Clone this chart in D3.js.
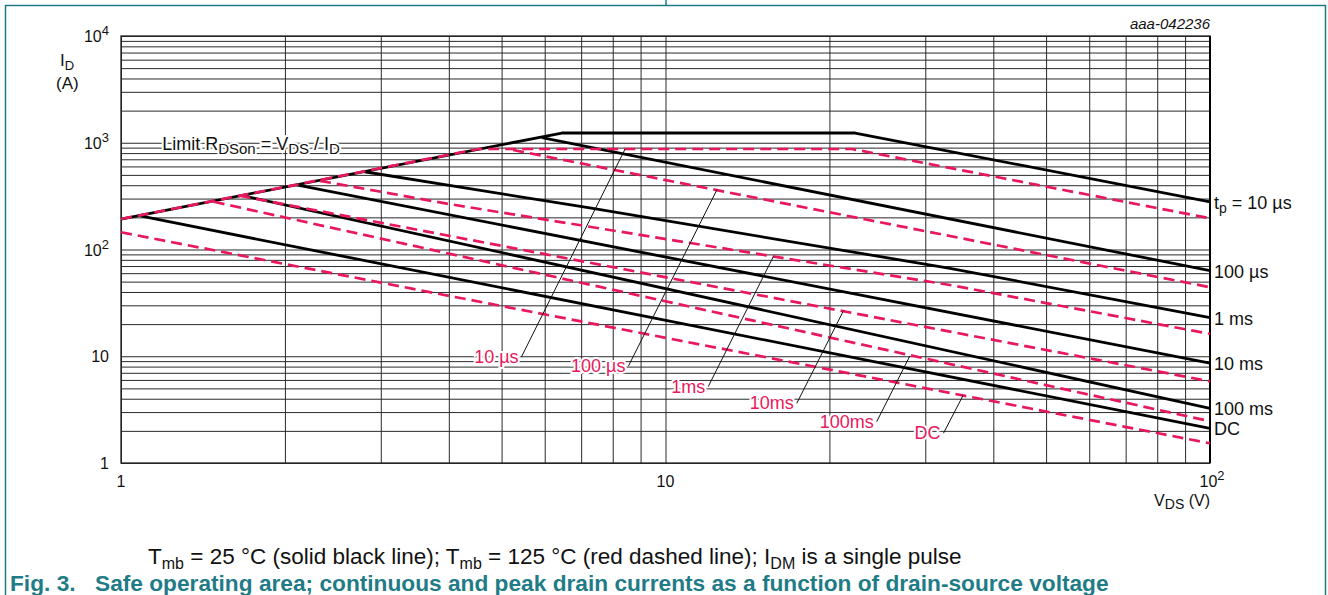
<!DOCTYPE html>
<html>
<head>
<meta charset="utf-8">
<script src="https://cdn.jsdelivr.net/npm/d3@7"></script>
<style>
  body { margin: 0; background: #fff; }
  svg text { font-family: "Liberation Sans", Arial, sans-serif; }
</style>
</head>
<body>
<svg width="1328" height="595"></svg>
<script>
// pulse duration labels (right side, black) and red labels (inside plot)
const pulseLabels = ["100 µs", "1 ms", "10 ms", "100 ms", "DC"];
const redLabels = ["10 µs", "100 µs", "1ms", "10ms", "100ms", "DC"];
const vdsTicks = [1, 10, 100];
const idTicks = [1, 10, 100, 1000, 10000];

// Tmb = 25 °C, solid black (first one includes Limit RDSon + plateau)
const black25V = [[1, 6.45, 22.3, 100], [5.93, 100], [2.8, 7.26, 33.3, 100], [2.1, 100], [1.68, 100], [1.09, 100]];
const black25I = [[193, 1234, 1234, 280], [1115, 63.3], [535, 245, 66.7, 23], [402, 8.6], [318, 3.25], [205, 2.11]];

// Tmb = 125 °C, red dashed
const red125V = [[1, 4.53, 22, 100], [5.25, 100], [2.32, 4.0, 33.3, 100], [1.65, 100], [1.48, 100], [1, 100]];
const red125I = [[193, 874, 874, 196], [855, 44.3], [440, 267, 46.5, 16.2], [319, 5.82], [280, 2.46], [145, 1.53]];

// leader lines from red labels to their curves
const leaderV = [[5.44, 8.43], [8.55, 12.43], [11.98, 15.78], [17.42, 21.2], [24.43, 28.1], [32.4, 35.2]];
const leaderI = [[9.9, 874], [8.1, 363], [5.19, 86], [3.62, 26.4], [2.44, 10.05], [1.9, 4.3]];

const teal = "#1f7c87";
const red = "#e8185c";

const x = d3.scaleLog().domain([1, 100]).range([121, 1210]);
const y = d3.scaleLog().domain([1, 10000]).range([463, 36]);

const svg = d3.select("svg");

// page frame (table cell)
svg.append("line").attr("x1", 5).attr("x2", 1326).attr("y1", 5.5).attr("y2", 5.5).attr("stroke", teal).attr("stroke-width", 1.5);
svg.append("line").attr("x1", 5.5).attr("x2", 5.5).attr("y1", 5).attr("y2", 595).attr("stroke", teal).attr("stroke-width", 1.5);
svg.append("line").attr("x1", 1325.5).attr("x2", 1325.5).attr("y1", 5).attr("y2", 595).attr("stroke", teal).attr("stroke-width", 1.5);
svg.append("line").attr("x1", 666).attr("x2", 666).attr("y1", 0).attr("y2", 5).attr("stroke", teal).attr("stroke-width", 1.5);

// grid values: 1..9 per decade
const xGrid = [0, 1].flatMap(e => d3.range(1, 10).map(k => k * Math.pow(10, e))).concat([100]);
const yGrid = [0, 1, 2, 3].flatMap(e => d3.range(1, 10).map(k => k * Math.pow(10, e))).concat([10000]);

svg.append("g")
    .attr("transform", "translate(0,463)")
    .call(d3.axisBottom(x).tickValues(xGrid).tickSize(-(463 - 36)).tickFormat(""))
    .call(g => g.select(".domain").remove())
    .selectAll("line").attr("stroke", "#2a2a2a").attr("stroke-width", 1);

svg.append("g")
    .attr("transform", "translate(121,0)")
    .call(d3.axisLeft(y).tickValues(yGrid).tickSize(-(1210 - 121)).tickFormat(""))
    .call(g => g.select(".domain").remove())
    .selectAll("line").attr("stroke", "#2a2a2a").attr("stroke-width", 1);

// plot border
svg.append("rect").attr("x", 121).attr("y", 36).attr("width", 1210 - 121).attr("height", 463 - 36)
    .attr("fill", "none").attr("stroke", "#222").attr("stroke-width", 1.3);
svg.append("line").attr("x1", 1210).attr("x2", 1210).attr("y1", 36).attr("y2", 463)
    .attr("stroke", "#000").attr("stroke-width", 2);

// tick labels with superscripts
function powLabel(sel, v) {
  const e = Math.round(Math.log10(v));
  if (e <= 1) { sel.text(String(v)); return; }
  sel.append("tspan").text("10");
  sel.append("tspan").attr("font-size", 13).attr("dy", -7).text(String(e));
}

idTicks.forEach(v => {
  const t = svg.append("text").attr("x", 109).attr("y", y(v) + 6)
      .attr("text-anchor", "end").attr("font-size", 16).attr("fill", "#111");
  powLabel(t, v);
});
vdsTicks.forEach(v => {
  const t = svg.append("text").attr("x", x(v) + (v === 100 ? 2 : 0)).attr("y", 487)
      .attr("text-anchor", "middle").attr("font-size", 16).attr("fill", "#111");
  powLabel(t, v);
});

// axis titles
const yt = svg.append("text").attr("x", 60).attr("y", 66).attr("font-size", 17).attr("fill", "#111");
yt.append("tspan").text("I");
yt.append("tspan").attr("font-size", 13).attr("dy", 4).text("D");
svg.append("text").attr("x", 56).attr("y", 89).attr("font-size", 17).attr("fill", "#111").text("(A)");

const xt = svg.append("text").attr("x", 1210).attr("y", 506).attr("text-anchor", "end").attr("font-size", 16).attr("fill", "#111");
xt.append("tspan").text("V");
xt.append("tspan").attr("font-size", 14).attr("dy", 3).text("DS");
xt.append("tspan").attr("dy", -3).text(" (V)");

svg.append("text").attr("x", 1210).attr("y", 29).attr("text-anchor", "end")
    .attr("font-size", 15).attr("font-style", "italic").attr("fill", "#111").text("aaa-042236");

// Limit RDSon label with glyph halo
const lim = svg.append("text").attr("x", x(1.19)).attr("y", y(950) + 5)
    .attr("font-size", 18).attr("fill", "#111")
    .attr("stroke", "#fff").attr("stroke-width", 4).attr("paint-order", "stroke");
lim.append("tspan").text("Limit R");
lim.append("tspan").attr("font-size", 15).attr("dy", 4).text("DSon");
lim.append("tspan").attr("dy", -4).text(" = V");
lim.append("tspan").attr("font-size", 15).attr("dy", 4).text("DS");
lim.append("tspan").attr("dy", -4).text(" / I");
lim.append("tspan").attr("font-size", 15).attr("dy", 4).text("D");

// curves
const line = d3.line().x(d => x(d[0])).y(d => y(d[1]));
const black = black25V.map((vs, i) => vs.map((v, j) => [v, black25I[i][j]]));
const reds = red125V.map((vs, i) => vs.map((v, j) => [v, red125I[i][j]]));

svg.append("g").selectAll("path").data(black).join("path")
    .attr("d", line).attr("fill", "none").attr("stroke", "#000").attr("stroke-width", 2.8)
    .attr("stroke-linejoin", "round");

svg.append("g").selectAll("path").data(reds).join("path")
    .attr("d", line).attr("fill", "none").attr("stroke", red).attr("stroke-width", 2.7)
    .attr("stroke-dasharray", "11,6");

// leaders
const leaders = leaderV.map((vs, i) => vs.map((v, j) => [v, leaderI[i][j]]));
svg.append("g").selectAll("path").data(leaders).join("path")
    .attr("d", line).attr("fill", "none").attr("stroke", "#111").attr("stroke-width", 1);

// red labels
svg.append("g").selectAll("text").data(redLabels).join("text")
    .attr("x", (d, i) => x(leaderV[i][0]) - 3)
    .attr("y", (d, i) => y(leaderI[i][0]) + 6)
    .attr("text-anchor", "end").attr("font-size", 18).attr("fill", red)
    .attr("stroke", "#fff").attr("stroke-width", 4).attr("paint-order", "stroke")
    .text(d => d);

// right-hand labels at the black curve ends
const tpl = svg.append("text").attr("x", 1214).attr("y", y(black25I[0][3]) + 7)
    .attr("font-size", 18).attr("fill", "#111");
tpl.append("tspan").text("t");
tpl.append("tspan").attr("font-size", 14).attr("dy", 4).text("p");
tpl.append("tspan").attr("dy", -4).text(" = 10 µs");

svg.append("g").selectAll("text").data(pulseLabels).join("text")
    .attr("x", 1214)
    .attr("y", (d, i) => y(black25I[i + 1][black25I[i + 1].length - 1]) + 7)
    .attr("font-size", 18).attr("fill", "#111")
    .text(d => d);

// notes below chart
const note = svg.append("text").attr("x", 148).attr("y", 564).attr("font-size", 22.5).attr("fill", "#111");
note.append("tspan").text("T");
note.append("tspan").attr("font-size", 16).attr("dy", 5).text("mb");
note.append("tspan").attr("dy", -5).text(" = 25 °C (solid black line); T");
note.append("tspan").attr("font-size", 16).attr("dy", 5).text("mb");
note.append("tspan").attr("dy", -5).text(" = 125 °C (red dashed line); I");
note.append("tspan").attr("font-size", 16).attr("dy", 5).text("DM");
note.append("tspan").attr("dy", -5).text(" is a single pulse");

const cap = svg.append("text").attr("y", 591).attr("font-size", 22.7).attr("font-weight", "bold").attr("fill", teal);
cap.append("tspan").attr("x", 10).text("Fig. 3.");
cap.append("tspan").attr("x", 95).text("Safe operating area; continuous and peak drain currents as a function of drain-source voltage");
</script>
</body>
</html>
